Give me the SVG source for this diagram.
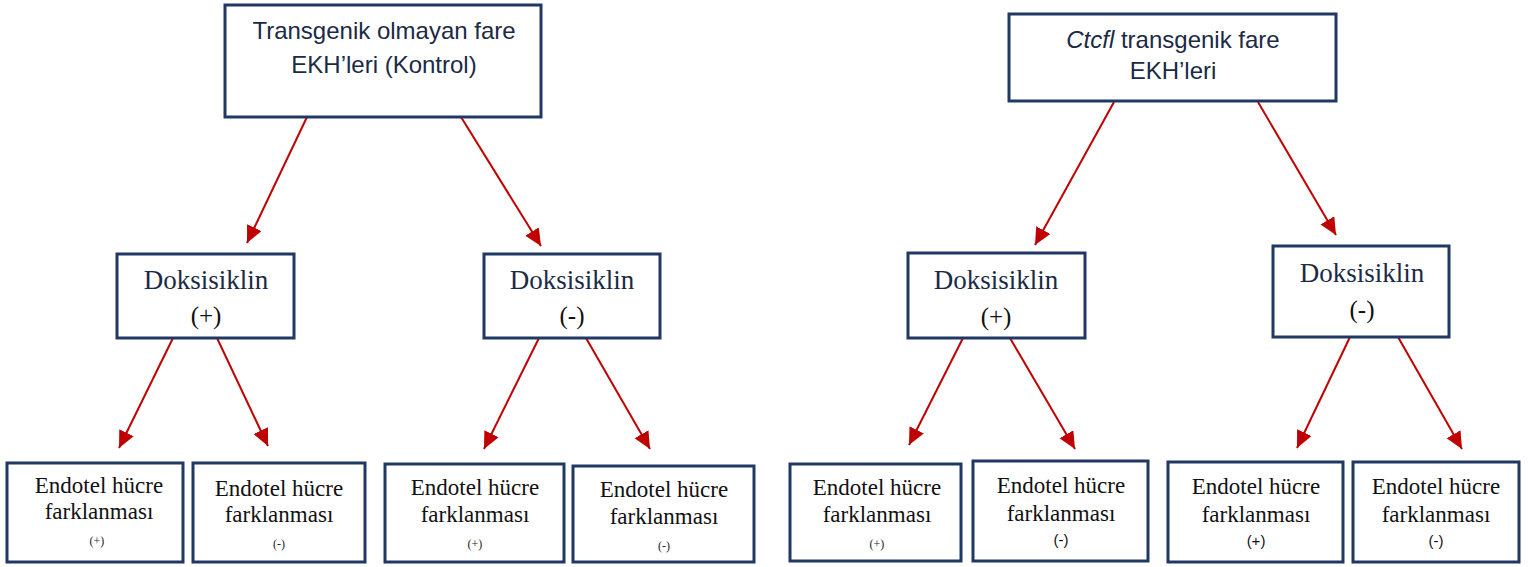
<svg xmlns="http://www.w3.org/2000/svg" width="1528" height="567" viewBox="0 0 1528 567">
<style>
.box{fill:#ffffff;stroke:#1f3864;stroke-width:3}
.ta{font-family:"Liberation Sans",Arial,sans-serif;font-size:24px;fill:#1b2a45;text-anchor:middle}
.td{font-family:"Liberation Serif","Times New Roman",serif;font-size:27px;fill:#1b2a45;text-anchor:middle}
.tp{font-family:"Liberation Serif","Times New Roman",serif;font-size:25px;fill:#111;text-anchor:middle}
.te{font-family:"Liberation Serif","Times New Roman",serif;font-size:23px;fill:#111;text-anchor:middle}
.ts{font-family:"Liberation Serif","Times New Roman",serif;font-size:12px;fill:#222;text-anchor:middle}
.tb{font-family:"Liberation Sans",Arial,sans-serif;font-size:15px;fill:#111;text-anchor:middle}
.arr{stroke:#c00000;stroke-width:2;fill:none;marker-end:url(#ah)}
</style>
<defs>
<marker id="ah" markerUnits="userSpaceOnUse" markerWidth="20" markerHeight="18" refX="17" refY="8" orient="auto">
<path d="M0,0 L17,8 L0,16 Z" fill="#c00000"/>
</marker>
</defs>
<rect width="1528" height="567" fill="#ffffff"/>
<g id="connectors">
<line class="arr" x1="307" y1="117" x2="247" y2="243"/>
<line class="arr" x1="461" y1="117" x2="541" y2="246"/>
<line class="arr" x1="1114" y1="102" x2="1035" y2="245"/>
<line class="arr" x1="1258" y1="102" x2="1336" y2="235"/>
<line class="arr" x1="173" y1="338" x2="119" y2="448"/>
<line class="arr" x1="217" y1="338" x2="268" y2="446"/>
<line class="arr" x1="539" y1="338" x2="484" y2="449"/>
<line class="arr" x1="586" y1="338" x2="650" y2="449"/>
<line class="arr" x1="964" y1="336" x2="909" y2="445"/>
<line class="arr" x1="1010" y1="338" x2="1075" y2="449"/>
<line class="arr" x1="1350" y1="337" x2="1297" y2="448"/>
<line class="arr" x1="1398" y1="337" x2="1462" y2="449"/>
</g>
<g id="top-left">
<rect class="box" x="225" y="5" width="316" height="112"/>
<text class="ta" x="384" y="39">Transgenik olmayan fare</text>
<text class="ta" x="384" y="73">EKH’leri (Kontrol)</text>
</g>
<g id="top-right">
<rect class="box" x="1009" y="14" width="327" height="87"/>
<text class="ta" x="1173" y="48"><tspan font-style="italic">Ctcfl</tspan> transgenik fare</text>
<text class="ta" x="1173" y="79">EKH’leri</text>
</g>
<g id="dox-plus-left">
<rect class="box" x="117" y="254" width="177" height="84"/>
<text class="td" x="206" y="289">Doksisiklin</text>
<text class="tp" x="206" y="324">(+)</text>
</g>
<g id="dox-minus-left">
<rect class="box" x="484" y="254" width="176" height="84"/>
<text class="td" x="572" y="289">Doksisiklin</text>
<text class="tp" x="572" y="324">(-)</text>
</g>
<g id="dox-plus-right">
<rect class="box" x="908" y="253" width="177" height="85"/>
<text class="td" x="996" y="289">Doksisiklin</text>
<text class="tp" x="996" y="325">(+)</text>
</g>
<g id="dox-minus-right">
<rect class="box" x="1273" y="246" width="176" height="91"/>
<text class="td" x="1362" y="282">Doksisiklin</text>
<text class="tp" x="1362" y="318">(-)</text>
</g>
<g id="end-1">
<rect class="box" x="7" y="463" width="176" height="99"/>
<text class="te" x="99" y="493">Endotel hücre</text>
<text class="te" x="99" y="519">farklanması</text>
<text class="ts" x="97" y="545">(+)</text>
</g>
<g id="end-2">
<rect class="box" x="193" y="463" width="172" height="99"/>
<text class="te" x="279" y="496">Endotel hücre</text>
<text class="te" x="279" y="522">farklanması</text>
<text class="ts" x="279" y="548">(-)</text>
</g>
<g id="end-3">
<rect class="box" x="385" y="464" width="179" height="98"/>
<text class="te" x="475" y="495">Endotel hücre</text>
<text class="te" x="475" y="522">farklanması</text>
<text class="ts" x="475" y="548">(+)</text>
</g>
<g id="end-4">
<rect class="box" x="573" y="466" width="181" height="96"/>
<text class="te" x="664" y="497">Endotel hücre</text>
<text class="te" x="664" y="524">farklanması</text>
<text class="ts" x="664" y="550">(-)</text>
</g>
<g id="end-5">
<rect class="box" x="790" y="464" width="171" height="97"/>
<text class="te" x="877" y="495">Endotel hücre</text>
<text class="te" x="877" y="522">farklanması</text>
<text class="ts" x="877" y="548">(+)</text>
</g>
<g id="end-6">
<rect class="box" x="973" y="461" width="175" height="100"/>
<text class="te" x="1061" y="493">Endotel hücre</text>
<text class="te" x="1061" y="521">farklanması</text>
<text class="tb" x="1061" y="545">(-)</text>
</g>
<g id="end-7">
<rect class="box" x="1168" y="462" width="175" height="100"/>
<text class="te" x="1256" y="494">Endotel hücre</text>
<text class="te" x="1256" y="522">farklanması</text>
<text class="tb" x="1256" y="546">(+)</text>
</g>
<g id="end-8">
<rect class="box" x="1353" y="462" width="166" height="100"/>
<text class="te" x="1436" y="494">Endotel hücre</text>
<text class="te" x="1436" y="522">farklanması</text>
<text class="tb" x="1436" y="546">(-)</text>
</g>
</svg>
